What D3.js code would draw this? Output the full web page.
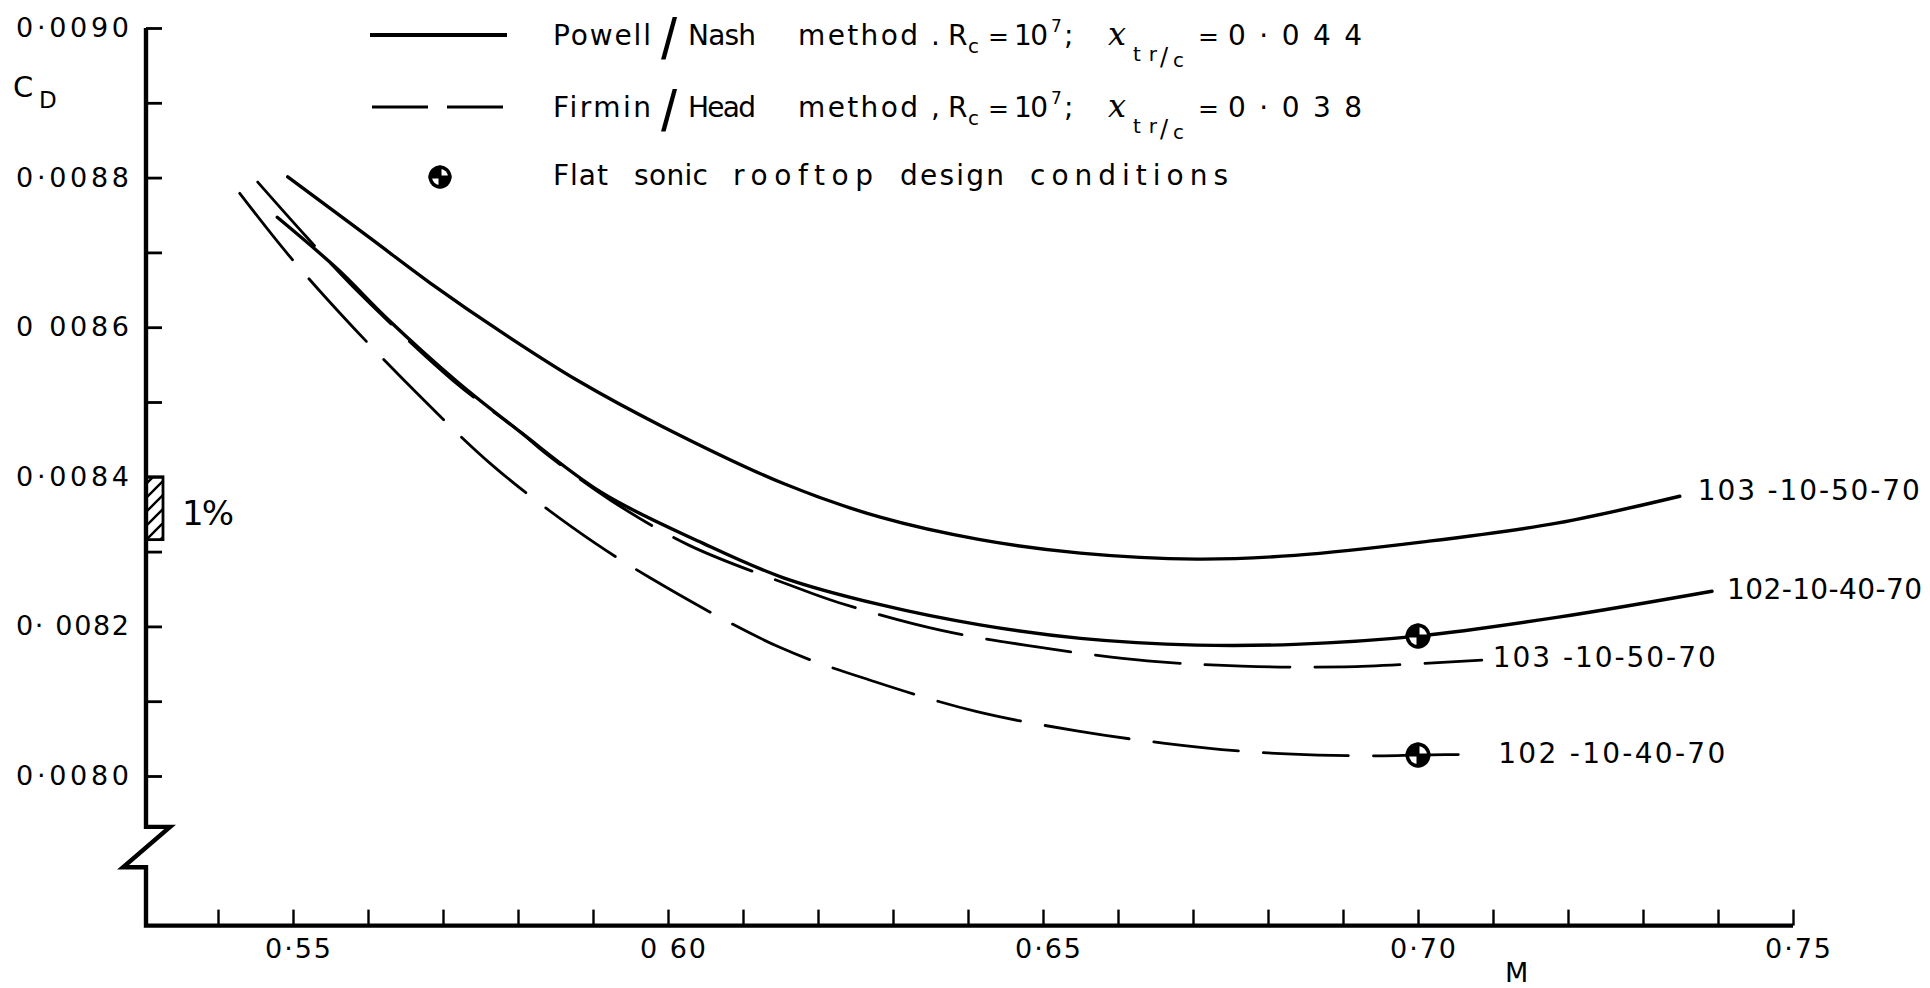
<!DOCTYPE html>
<html><head><meta charset="utf-8">
<script src="https://cdn.jsdelivr.net/npm/d3@7/dist/d3.min.js"></script>
<style>
body{margin:0;background:#fff}
svg{display:block}
text{font-family:"DejaVu Sans",sans-serif;fill:#000}
</style>
</head><body>
<svg id="c" width="1930" height="988"></svg>
<script>
// ---------- data ----------
const powell103M  = [0.5493,0.5603,0.5683,0.5780,0.5879,0.5993,0.6154,0.6283,0.6416,0.6550,0.6705,0.6836,0.7007,0.7185,0.7349];
const powell103CD = [0.008801,0.008719,0.008659,0.008592,0.008529,0.008467,0.008391,0.008346,0.008316,0.008298,0.008290,0.008295,0.008313,0.008338,0.008374];

const powell102M  = [0.5479,0.5559,0.5625,0.5719,0.5803,0.5913,0.6047,0.6154,0.6283,0.6416,0.6550,0.6705,0.6836,0.7000,0.7185,0.7392];
const powell102CD = [0.008747,0.008678,0.008612,0.008527,0.008460,0.008378,0.008311,0.008265,0.008229,0.008202,0.008184,0.008175,0.008176,0.008187,0.008212,0.008247];

const firmin103M  = [0.5453,0.5516,0.5580,0.5713,0.5803,0.5836,0.5923,0.6027,0.6163,0.6227,0.6363,0.6503,0.6639,0.6765,0.6903,0.7085];
const firmin103CD = [0.008794,0.008723,0.008654,0.008529,0.008460,0.008432,0.008369,0.008309,0.008255,0.008232,0.008195,0.008171,0.008154,0.008147,0.008146,0.008155];

const firmin102M  = [0.5429,0.5492,0.5567,0.5665,0.5764,0.5873,0.5976,0.6149,0.6276,0.6412,0.6547,0.6660,0.6767,0.6867,0.6953,0.7000,0.7083];
const firmin102CD = [0.008779,0.008699,0.008614,0.008512,0.008417,0.008332,0.008265,0.008172,0.008126,0.008086,0.008060,0.008044,0.008033,0.008028,0.008027,0.008028,0.008029];

const designM  = [0.70, 0.70];
const designCD = [0.008187, 0.008028];

const curveLabels = ["103 -10-50-70", "102-10-40-70", "103 -10-50-70", "102 -10-40-70"];

const xTickValues   = d3.range(54, 76).map(d => d / 100);
const xLabelValues  = [0.55, 0.60, 0.65, 0.70, 0.75];
const xLabelTexts   = ["0·55", "0 60", "0·65", "0·70", "0·75"];
const yTickValues   = d3.range(80, 91).map(d => d / 10000);
const yLabelValues  = [0.0090, 0.0088, 0.0086, 0.0084, 0.0082, 0.0080];
const yLabelTexts   = ["0·0090", "0·0088", "0 0086", "0·0084", "0· 0082", "0·0080"];

// ---------- setup ----------
const svg = d3.select("#c");
svg.append("rect").attr("width", 1930).attr("height", 988).attr("fill", "#fff");

const x = d3.scaleLinear().domain([0.55, 0.75]).range([293, 1793]);
const y = d3.scaleLinear().domain([0.0080, 0.0090]).range([776, 28]);

const mStart = 0.5304;      // M where the C_D axis stands
const cdBase = 0.0078;      // level of the (broken) M axis
const brkTop = 0.007932, brkBot = 0.007878;

function t(str, px, py, size, o = {}) {
  const e = svg.append("text").attr("x", px).attr("y", py).attr("font-size", size).text(str);
  if (o.len) e.attr("textLength", o.len).attr("lengthAdjust", "spacing");
  return e;
}

// ---------- axes ----------
const x0 = x(mStart);
svg.append("path")
  .attr("d", `M${x0},${y(0.0090)} V${y(brkTop)} h24 L${x0 - 23},${y(brkBot)} H${x0} V${y(cdBase)} H${x(0.75)}`)
  .attr("fill", "none").attr("stroke", "#000").attr("stroke-width", 4.4).attr("stroke-linejoin", "miter");

const yAx = svg.append("g").attr("transform", `translate(${x0},0)`)
  .call(d3.axisRight(y).tickValues(yTickValues).tickSize(16).tickFormat(""));
yAx.select(".domain").remove();
yAx.selectAll(".tick line").attr("stroke", "#000").attr("stroke-width", 2.8);

const xAx = svg.append("g").attr("transform", `translate(0,${y(cdBase)})`)
  .call(d3.axisBottom(x).tickValues(xTickValues).tickSize(-16).tickFormat(""));
xAx.select(".domain").remove();
xAx.selectAll(".tick line").attr("stroke", "#000").attr("stroke-width", 2.4);

// tick labels
yLabelValues.forEach((v, i) => t(yLabelTexts[i], 16, y(v) + 9, 27, {len: 113}));
xLabelValues.forEach((v, i) => t(xLabelTexts[i], x(v) + 5 - 33, 958, 27, {len: 66}));

// axis titles
t("C", 13, 97, 29);
t("D", 39, 108, 23);
t("M", 1505, 982, 27);

// 1% bar
const defs = svg.append("defs");
const pat = defs.append("pattern").attr("id", "hatch").attr("patternUnits", "userSpaceOnUse")
  .attr("width", 14).attr("height", 14);
pat.append("path").attr("d", "M-3,17 L17,-3 M-3,3 L3,-3 M11,17 L17,11")
  .attr("stroke", "#000").attr("stroke-width", 2.4);
svg.append("rect").attr("x", x0).attr("y", y(0.0084)).attr("width", 17)
  .attr("height", y(0.0084 * 0.99) - y(0.0084))
  .attr("fill", "url(#hatch)").attr("stroke", "#000").attr("stroke-width", 2.8);
t("1%", 182, 525, 34, {len: 52});

// ---------- curves ----------
const line = d3.line().x(d => x(d[0])).y(d => y(d[1])).curve(d3.curveCatmullRom.alpha(0.5));
const series = [
  {m: powell103M, cd: powell103CD, dash: null, w: 3.4, dx: 18, dy: -6, len: 222},
  {m: powell102M, cd: powell102CD, dash: null, w: 3.4, dx: 15, dy: -2, len: 195},
  {m: firmin103M, cd: firmin103CD, dash: "85,25", w: 2.8, dx: 11, dy: -3, len: 223},
  {m: firmin102M, cd: firmin102CD, dash: "85,25", w: 2.8, dx: 18, dy: -1, len: 227}
];
series.forEach((s, i) => {
  const pts = s.m.map((m, k) => [m, s.cd[k]]);
  const p = svg.append("path").attr("d", line(pts)).attr("fill", "none")
    .attr("stroke", "#000").attr("stroke-width", s.w).attr("stroke-linecap", "round");
  if (s.dash) p.attr("stroke-dasharray", s.dash);
  const last = pts[pts.length - 1];
  t(curveLabels[i], x(last[0]) + s.dx, y(last[1]) + s.dy + 10, 28, {len: s.len});
});

// ---------- design-point symbols ----------
function symbol(cx, cy, r) {
  const g = svg.append("g").attr("transform", `translate(${cx},${cy})`);
  g.append("circle").attr("r", r).attr("fill", "#000");
  const arc = d3.arc().innerRadius(0).outerRadius(r - 3.5);
  g.append("path").attr("d", arc({startAngle: 0, endAngle: Math.PI / 2})).attr("fill", "#fff");
  g.append("path").attr("d", arc({startAngle: Math.PI, endAngle: 1.5 * Math.PI})).attr("fill", "#fff");
  g.append("path").attr("d", `M${-r},0 H${r} M0,${-r} V${r}`).attr("stroke", "#000").attr("stroke-width", 3);
}
designM.forEach((m, i) => symbol(x(m), y(designCD[i]), 12.5));

// ---------- legend ----------
svg.append("line").attr("x1", 370).attr("x2", 507).attr("y1", 35).attr("y2", 35)
  .attr("stroke", "#000").attr("stroke-width", 4);
svg.append("line").attr("x1", 372).attr("x2", 507).attr("y1", 107).attr("y2", 107)
  .attr("stroke", "#000").attr("stroke-width", 3.2).attr("stroke-dasharray", "56,19");
symbol(440, 177, 11.5);

function legendRow(b, a, c, sep, val) {
  const row = svg.append("text").attr("font-size", 28);
  const sp = (str, px, py, o = {}) => {
    const e = row.append("tspan").attr("x", px).attr("y", py).text(str);
    if (o.size) e.attr("font-size", o.size);
    if (o.len) e.attr("textLength", o.len).attr("lengthAdjust", "spacing");
    if (o.fam) e.style("font-family", o.fam);
    if (o.italic) e.attr("font-style", "italic");
    return e;
  };
  sp(a, 553, b, {len: 98});
  sp("/", 661, b + 14, {size: 58, fam: "'Liberation Sans',sans-serif"});
  sp(c, 688, b, {len: 68});
  sp("method", 798, b, {len: 120});
  sp(sep, 931, b);
  sp("R", 948, b);
  sp("c", 968, b + 8, {size: 20});
  sp("=", 988, b, {size: 25});
  sp("10", 1014, b, {len: 34});
  sp("7", 1051, b - 13, {size: 17});
  sp(";", 1064, b);
  sp("x", 1108, b, {size: 32, italic: true, fam: "'DejaVu Serif',serif"});
  sp("tr", 1133, b + 16, {size: 20, len: 24});
  sp("/", 1160, b + 20, {size: 24});
  sp("c", 1173, b + 22, {size: 20});
  sp("=", 1198, b, {size: 25});
  sp(val, 1228, b, {len: 134});
}
legendRow(45, "Powell", "Nash", ".", "0·044");
legendRow(117, "Firmin", "Head", ",", "0·038");

const r3 = svg.append("text").attr("font-size", 28);
[["Flat", 553, 55], ["sonic", 634, 74], ["rooftop", 733, 140], ["design", 900, 104], ["conditions", 1030, 198]]
  .forEach(w => r3.append("tspan").attr("x", w[1]).attr("y", 185).attr("textLength", w[2])
    .attr("lengthAdjust", "spacing").text(w[0]));
</script>
</body></html>
